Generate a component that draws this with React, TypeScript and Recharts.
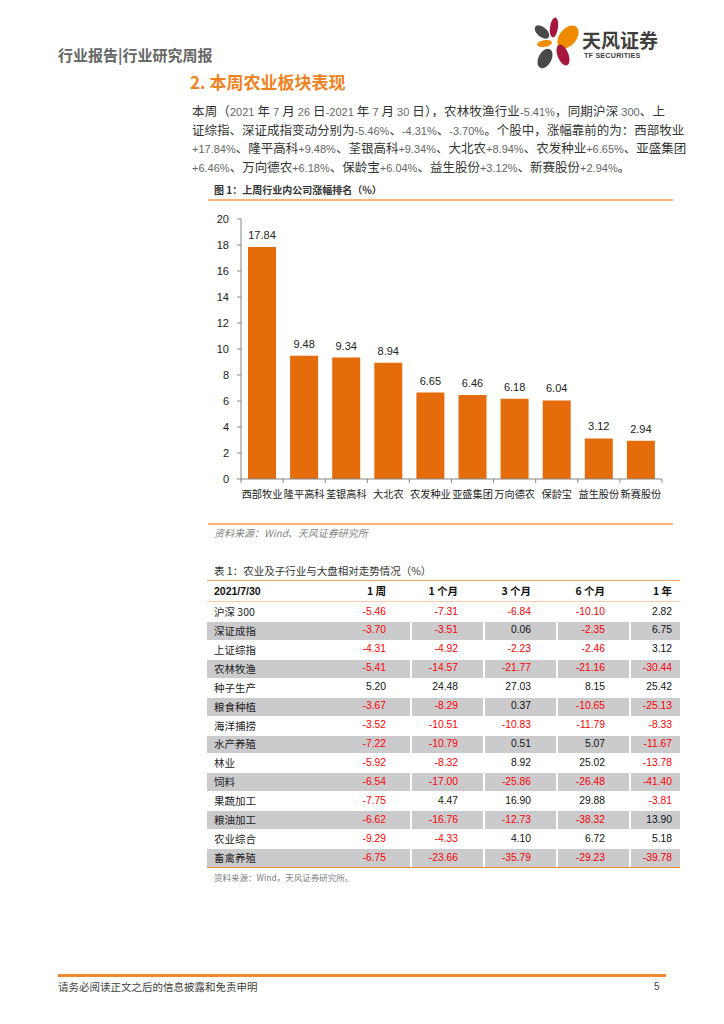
import { Bar, BarChart, LabelList, XAxis, YAxis } from 'recharts'

// 图 1：上周行业内公司涨幅排名（%）
const COMPANIES = ['西部牧业', '隆平高科', '荃银高科', '大北农', '农发种业', '亚盛集团', '万向德农', '保龄宝', '益生股份', '新赛股份']
const GAINS = [17.84, 9.48, 9.34, 8.94, 6.65, 6.46, 6.18, 6.04, 3.12, 2.94]
const Y_TICKS = [0, 2, 4, 6, 8, 10, 12, 14, 16, 18, 20]

// 表 1：农业及子行业与大盘相对走势情况（%）
const TABLE_HEAD = ['2021/7/30', '1 周', '1 个月', '3 个月', '6 个月', '1 年']
const SECTORS = ['沪深 300', '深证成指', '上证综指', '农林牧渔', '种子生产', '粮食种植', '海洋捕捞', '水产养殖', '林业', '饲料', '果蔬加工', '粮油加工', '农业综合', '畜禽养殖']
const WEEK_1 = [-5.46, -3.7, -4.31, -5.41, 5.2, -3.67, -3.52, -7.22, -5.92, -6.54, -7.75, -6.62, -9.29, -6.75]
const MONTH_1 = [-7.31, -3.51, -4.92, -14.57, 24.48, -8.29, -10.51, -10.79, -8.32, -17.0, 4.47, -16.76, -4.33, -23.66]
const MONTH_3 = [-6.84, 0.06, -2.23, -21.77, 27.03, 0.37, -10.83, 0.51, 8.92, -25.86, 16.9, -12.73, 4.1, -35.79]
const MONTH_6 = [-10.1, -2.35, -2.46, -21.16, 8.15, -10.65, -11.79, 5.07, 25.02, -26.48, 29.88, -38.32, 6.72, -29.23]
const YEAR_1 = [2.82, 6.75, 3.12, -30.44, 25.42, -25.13, -8.33, -11.67, -13.78, -41.4, -3.81, 13.9, 5.18, -39.78]

const PARAGRAPH = [
  '本周（2021 年 7 月 26 日-2021 年 7 月 30 日），农林牧渔行业-5.41%，同期沪深 300、上',
  '证综指、深证成指变动分别为-5.46%、-4.31%、-3.70%。个股中，涨幅靠前的为：西部牧业',
  '+17.84%、隆平高科+9.48%、荃银高科+9.34%、大北农+8.94%、农发种业+6.65%、亚盛集团',
  '+6.46%、万向德农+6.18%、保龄宝+6.04%、益生股份+3.12%、新赛股份+2.94%。',
]

const CJK = '"Noto Sans CJK SC", "Liberation Sans", sans-serif'
const LATIN = '"Liberation Sans", Arial, "Noto Sans CJK SC", sans-serif'
const NARROW = '"Liberation Sans Narrow", "Liberation Sans", sans-serif'
const ORANGE = '#F08A30'
const BAR = '#E46C0A'

const chartData = COMPANIES.map((name, i) => ({ name, gain: GAINS[i] }))
const tableCols = [WEEK_1, MONTH_1, MONTH_3, MONTH_6, YEAR_1]
const COL_RIGHT = [386, 458, 531, 605, 672]
const COL_SEP = [410, 483, 556, 629]

function Mixed({ text }: { text: string }) {
  const parts = text.split(/([\x21-\x7E][\x20-\x7E]*[\x21-\x7E]|[\x21-\x7E])/)
  return (
    <>
      {parts.map((p, i) =>
        /[\x21-\x7E]/.test(p) ? (
          <span key={i} style={{ fontFamily: NARROW, fontSize: 11, color: '#666' }}>{p}</span>
        ) : (
          <span key={i}>{p}</span>
        ),
      )}
    </>
  )
}

function CategoryTick(props: any) {
  const { x, y, payload, index, visibleTicksCount } = props
  const half = payload?.offset || 21
  return (
    <g>
      <line x1={x - half} x2={x - half} y1={y} y2={y + 4} stroke="#868686" />
      {index === visibleTicksCount - 1 && <line x1={x + half} x2={x + half} y1={y} y2={y + 4} stroke="#868686" />}
      <text x={x} y={y + 19} textAnchor="middle" fontSize={10.2} fill="#222" fontFamily={CJK}>
        {payload.value}
      </text>
    </g>
  )
}

function Logo() {
  return (
    <svg width={60} height={62} viewBox="528 12 60 62" style={{ position: 'absolute', left: 528, top: 12 }}>
      <ellipse cx={554} cy={27.5} rx={4} ry={10} fill="#A5173B" transform="rotate(8 554 27.5)" />
      <ellipse cx={568} cy={37} rx={8.5} ry={13} fill="#F08A00" transform="rotate(40 568 37)" />
      <ellipse cx={542} cy={32} rx={5} ry={8.5} fill="#4A4A4A" transform="rotate(-50 542 32)" />
      <ellipse cx={544.5} cy={43.5} rx={7.5} ry={3.4} fill="#F08A00" transform="rotate(-10 544.5 43.5)" />
      <ellipse cx={563} cy={55} rx={5.5} ry={11} fill="#A5173B" transform="rotate(-22 563 55)" />
      <ellipse cx={545} cy={58.5} rx={6.5} ry={10.5} fill="#4A4A4A" transform="rotate(28 545 58.5)" />
    </svg>
  )
}

function Txt({ left, cy, size, children, style }: any) {
  const h = 20
  return (
    <div
      style={{
        position: 'absolute',
        left,
        top: cy - h / 2,
        height: h,
        lineHeight: `${h}px`,
        fontSize: size,
        whiteSpace: 'nowrap',
        fontFamily: CJK,
        ...style,
      }}
    >
      {children}
    </div>
  )
}

function Rule({ left, top, width, h = 2, color = ORANGE }: any) {
  return <div style={{ position: 'absolute', left, top, width, height: h, background: color }} />
}

export default function App() {
  const rowTop = 602
  const rowH = 18.93
  return (
    <div style={{ position: 'absolute', left: 0, top: 0, width: 724, height: 1024, background: '#fff', fontFamily: CJK, color: '#333' }}>
      <Txt left={58} cy={55} size={15} style={{ color: '#666', fontWeight: 700 }}>行业报告|行业研究周报</Txt>
      <Logo />
      <Txt left={582} cy={40} size={19} style={{ color: '#3F3F3F', fontWeight: 700 }}>天风证券</Txt>
      <Txt left={584} cy={56} size={7.2} style={{ color: '#3F3F3F', fontWeight: 700, fontFamily: NARROW, letterSpacing: 0.2 }}>TF SECURITIES</Txt>

      <Txt left={190} cy={82} size={17} style={{ color: '#F0821E', fontWeight: 700 }}>2. 本周农业板块表现</Txt>

      {PARAGRAPH.map((line, i) => (
        <div
          key={i}
          style={{
            position: 'absolute',
            left: 192,
            top: 102 + i * 18.5,
            width: 473,
            height: 18.5,
            lineHeight: '18.5px',
            fontSize: 12.5,
            color: '#333',
            whiteSpace: 'nowrap',
            textAlign: i < 3 ? 'justify' : 'left',
            textAlignLast: i < 3 ? 'justify' : 'left',
          }}
        >
          <Mixed text={line} />
        </div>
      ))}

      <Txt left={214} cy={190} size={10} style={{ fontWeight: 700, color: '#333' }}>图 1：上周行业内公司涨幅排名（%）</Txt>
      <Rule left={208} top={199} width={465} h={1.5} color="#F8B27A" />

      <div style={{ position: 'absolute', left: 200, top: 205, width: 480, height: 310, fontFamily: LATIN }}>
        <BarChart width={480} height={310} data={chartData} margin={{ top: 14, right: 18, bottom: 6, left: 0 }}>
          <YAxis
            width={41}
            domain={[0, 20]}
            ticks={Y_TICKS}
            interval={0}
            axisLine={{ stroke: '#868686' }}
            tickLine={{ stroke: '#868686' }}
            tickSize={4}
            tickMargin={8}
            tick={{ fontSize: 11, fill: '#222' }}
          />
          <XAxis
            dataKey="name"
            height={30}
            interval={0}
            axisLine={{ stroke: '#868686' }}
            tickLine={false}
            tickSize={0}
            tickMargin={0}
            tick={<CategoryTick />}
          />
          <Bar dataKey="gain" fill={BAR} barSize={28} isAnimationActive={false}>
            <LabelList
              dataKey="gain"
              position="top"
              offset={8}
              fontSize={11}
              fill="#222"
              formatter={(v: any) => Number(v).toFixed(2)}
            />
          </Bar>
        </BarChart>
      </div>

      <Rule left={208} top={523} width={465} h={1.5} color="#F8B27A" />
      <Txt left={214} cy={533} size={10} style={{ fontStyle: 'italic', color: '#7F7F7F' }}>资料来源：Wind、天风证券研究所</Txt>

      <Txt left={214} cy={571} size={10.5} style={{ color: '#333' }}>表 1：农业及子行业与大盘相对走势情况（%）</Txt>
      <Rule left={207} top={579.5} width={473} h={1.5} color="#F5A060" />

      {TABLE_HEAD.map((h, c) =>
        c === 0 ? (
          <Txt key={c} left={214} cy={591} size={10.5} style={{ fontWeight: 700, color: '#111', fontFamily: LATIN }}>{h}</Txt>
        ) : (
          <div
            key={c}
            style={{ position: 'absolute', left: COL_RIGHT[c - 1] - 80, width: 80, top: 581, height: 20, lineHeight: '20px', fontSize: 10.5, fontWeight: 700, textAlign: 'right', color: '#111', whiteSpace: 'nowrap' }}
          >
            {h}
          </div>
        ),
      )}
      <Rule left={207} top={601} width={473} h={1} color="#F8CBAD" />

      {SECTORS.map((name, r) => {
        const top = rowTop + r * rowH
        return (
          <div key={name}>
            {r % 2 === 1 && (
              <div style={{ position: 'absolute', left: 207, top: top + 1, width: 473, height: rowH - 1, background: '#CBCBCD' }} />
            )}
            {r % 2 === 1 &&
              COL_SEP.map(x => <div key={x} style={{ position: 'absolute', left: x, top: top + 1, width: 1.5, height: rowH - 1, background: '#fff' }} />)}
            <Txt left={214} cy={top + rowH / 2 + 0.5} size={10.5} style={{ color: '#222' }}>{name}</Txt>
            {tableCols.map((col, c) => (
              <div
                key={c}
                style={{
                  position: 'absolute',
                  left: COL_RIGHT[c] - 60,
                  width: 60,
                  top: top + 0.5,
                  height: rowH,
                  lineHeight: `${rowH}px`,
                  fontSize: 10.3,
                  fontFamily: LATIN,
                  textAlign: 'right',
                  color: col[r] < 0 ? '#FF0000' : '#111',
                }}
              >
                {col[r].toFixed(2)}
              </div>
            ))}
          </div>
        )
      })}
      <Rule left={207} top={866.5} width={473} h={1.5} color={ORANGE} />
      <Txt left={214} cy={877} size={8.5} style={{ color: '#7F7F7F' }}>资料来源：Wind，天风证券研究所。</Txt>

      <Rule left={58} top={974} width={608} h={2.5} color={ORANGE} />
      <Txt left={58} cy={987} size={10.5} style={{ color: '#404040' }}>请务必阅读正文之后的信息披露和免责申明</Txt>
      <Txt left={654} cy={987} size={10} style={{ color: '#404040', fontFamily: LATIN }}>5</Txt>
    </div>
  )
}
